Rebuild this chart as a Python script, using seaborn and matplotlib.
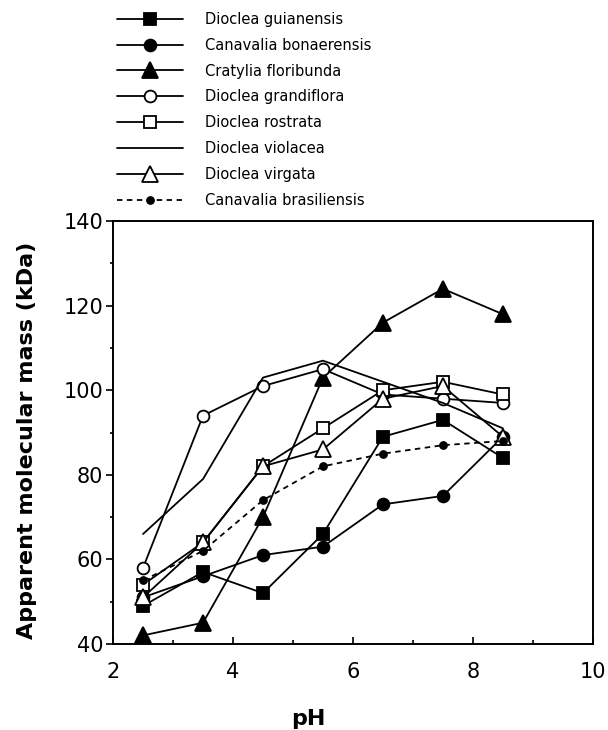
import matplotlib
matplotlib.use("Agg")
import matplotlib.pyplot as plt
import seaborn as sns
import pandas as pd
from matplotlib.ticker import MultipleLocator
from matplotlib.lines import Line2D

sns.set_theme(style="white")
plt.rcParams['font.family'] = ['DejaVu Sans']
plt.rcParams['text.color'] = 'black'
plt.rcParams['axes.labelcolor'] = 'black'
plt.rcParams['xtick.color'] = 'black'
plt.rcParams['ytick.color'] = 'black'

ph = [2.5, 3.5, 4.5, 5.5, 6.5, 7.5, 8.5]

species = ["Dioclea guianensis", "Canavalia bonaerensis", "Cratylia floribunda",
           "Dioclea grandiflora", "Dioclea rostrata", "Dioclea violacea",
           "Dioclea virgata", "Canavalia brasiliensis"]

guianensis = [49, 57, 52, 66, 89, 93, 84]
bonaerensis = [51, 56, 61, 63, 73, 75, 89]
floribunda = [42, 45, 70, 103, 116, 124, 118]
grandiflora = [58, 94, 101, 105, 99, 98, 97]
rostrata = [54, 64, 82, 91, 100, 102, 99]
violacea = [66, 79, 103, 107, 102, 97, 91]
virgata = [51, 64, 82, 86, 98, 101, 89]
brasiliensis = [55, 62, 74, 82, 85, 87, 88]

series = [guianensis, bonaerensis, floribunda, grandiflora, rostrata,
          violacea, virgata, brasiliensis]

styles = [
    dict(marker='s', markersize=8.5, mfc='black', ls='-'),
    dict(marker='o', markersize=8.5, mfc='black', ls='-'),
    dict(marker='^', markersize=11, mfc='black', ls='-'),
    dict(marker='o', markersize=8.5, mfc='white', ls='-'),
    dict(marker='s', markersize=8.5, mfc='white', ls='-'),
    dict(marker=None, markersize=0, mfc='black', ls='-'),
    dict(marker='^', markersize=11, mfc='white', ls='-'),
    dict(marker='o', markersize=5, mfc='black', ls=(0, (3, 2.5))),
]

fig = plt.figure(figsize=(6.08, 7.3), dpi=100)
ax = fig.add_axes([0.186, 0.118, 0.789, 0.579])

handles = []
for name, vals, st in zip(species, series, styles):
    df = pd.DataFrame({'pH': ph, 'mass': vals})
    kw = dict(color='black', linewidth=1.3, linestyle=st['ls'])
    if st['marker']:
        kw.update(marker=st['marker'], markersize=st['markersize'],
                  markerfacecolor=st['mfc'], markeredgecolor='black',
                  markeredgewidth=1.3)
    sns.lineplot(data=df, x='pH', y='mass', ax=ax, **kw)
    handles.append(Line2D([], [], label=name, **kw))

ax.set_xlim(2, 10)
ax.set_ylim(40, 140)
ax.xaxis.set_major_locator(MultipleLocator(2))
ax.xaxis.set_minor_locator(MultipleLocator(1))
ax.yaxis.set_major_locator(MultipleLocator(20))
ax.yaxis.set_minor_locator(MultipleLocator(10))
ax.tick_params(axis='x', which='both', direction='in', bottom=True, top=False,
               labelsize=15, pad=13, width=1.2, color='black')
ax.tick_params(axis='x', which='major', length=5)
ax.tick_params(axis='x', which='minor', length=3)
ax.tick_params(axis='y', which='both', direction='out', left=True, right=False,
               labelsize=15, pad=2, width=1.2, color='black')
ax.tick_params(axis='y', which='major', length=5)
ax.tick_params(axis='y', which='minor', length=2.5)
for sp in ax.spines.values():
    sp.set_color('black')
    sp.set_linewidth(1.4)

ax.set_xlabel('pH', fontsize=16, fontweight='bold')
ax.xaxis.set_label_coords(0.406, -0.155)
ax.set_ylabel('Apparent molecular mass (kDa)', fontsize=16, fontweight='bold')
ax.yaxis.set_label_coords(-0.158, 0.482)

fig.legend(handles=handles, loc='upper left', bbox_to_anchor=(0.183, 0.992),
           frameon=False, fontsize=10.5, handlelength=4.5, handletextpad=1.5,
           labelspacing=0.75, borderaxespad=0)

fig.savefig('out.png', dpi=100)
